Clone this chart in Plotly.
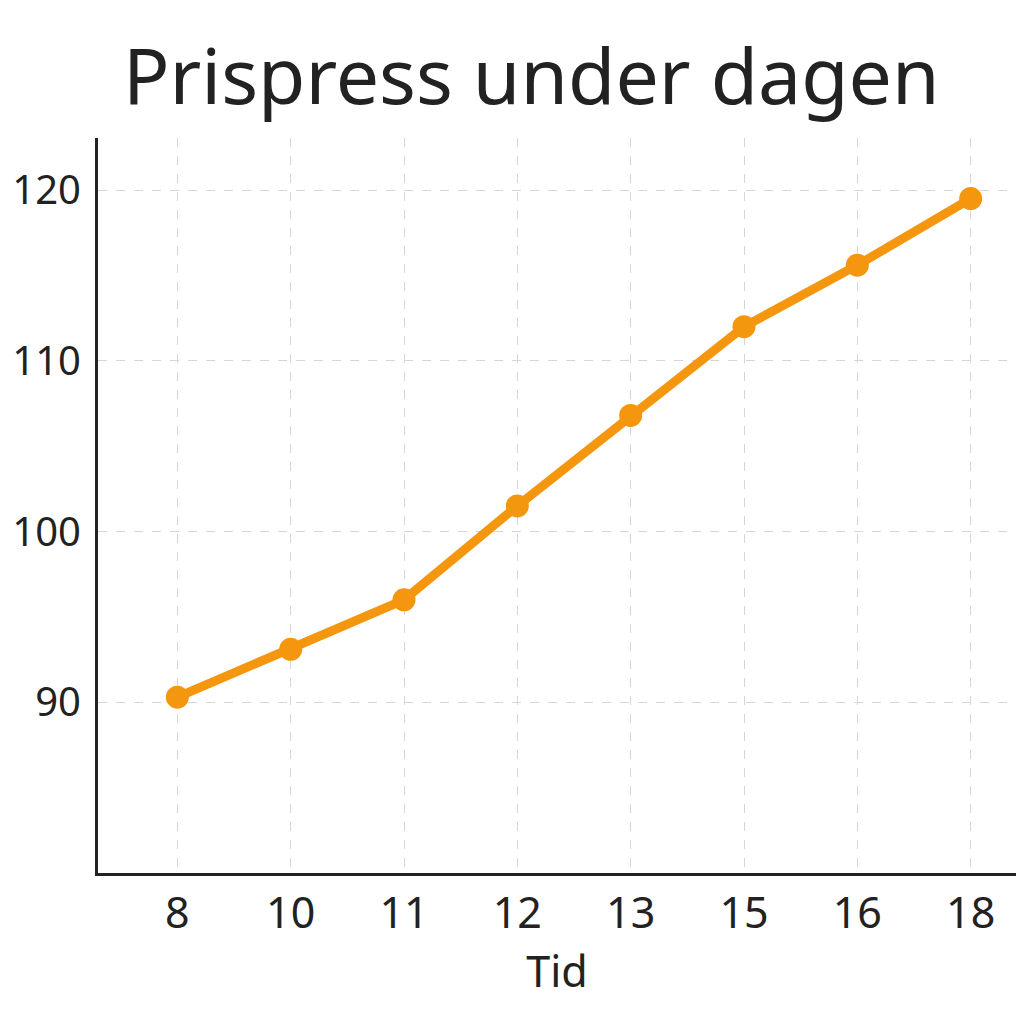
import plotly.graph_objects as go

hours = ["8", "10", "11", "12", "13", "15", "16", "18"]
prices = [90.3, 93.1, 96.0, 101.5, 106.8, 112.0, 115.6, 119.5]

title_text = "Prispress under dagen"
x_title = "Tid"
y_ticks = [90, 100, 110, 120]

fig = go.Figure()
fig.add_trace(go.Scatter(
    x=hours, y=prices, mode="lines+markers",
    line=dict(color="#F5960F", width=9),
    marker=dict(color="#F5960F", size=23),
))

# page has 8px body margin, so size/margins are compensated for it
fig.update_layout(
    width=1016, height=1016,
    plot_bgcolor="white", paper_bgcolor="white",
    margin=dict(l=90, r=8, t=130, b=151, autoexpand=False),
    font=dict(family="Noto Sans", color="#222222", size=40),
    title=dict(text=title_text, x=0.515, xanchor="center", y=0.932, yanchor="middle",
               font=dict(size=77, color="#222222")),
    showlegend=False,
)
fig.update_xaxes(
    type="category", range=[-0.7, 7.4],
    showline=True, linecolor="#222222", linewidth=3,
    showgrid=True, gridcolor="#d6d6d6", griddash="dash", gridwidth=1.3,
    ticks="", tickfont=dict(size=43),
    title=dict(text=x_title, standoff=2, font=dict(size=43)),
)
fig.update_yaxes(
    range=[80, 123.05], tickvals=y_ticks,
    showline=True, linecolor="#222222", linewidth=3,
    showgrid=True, gridcolor="#d6d6d6", griddash="dash", gridwidth=1.3,
    zeroline=False, ticks="", ticklabelstandoff=6,
)

fig.write_html("out.html")
